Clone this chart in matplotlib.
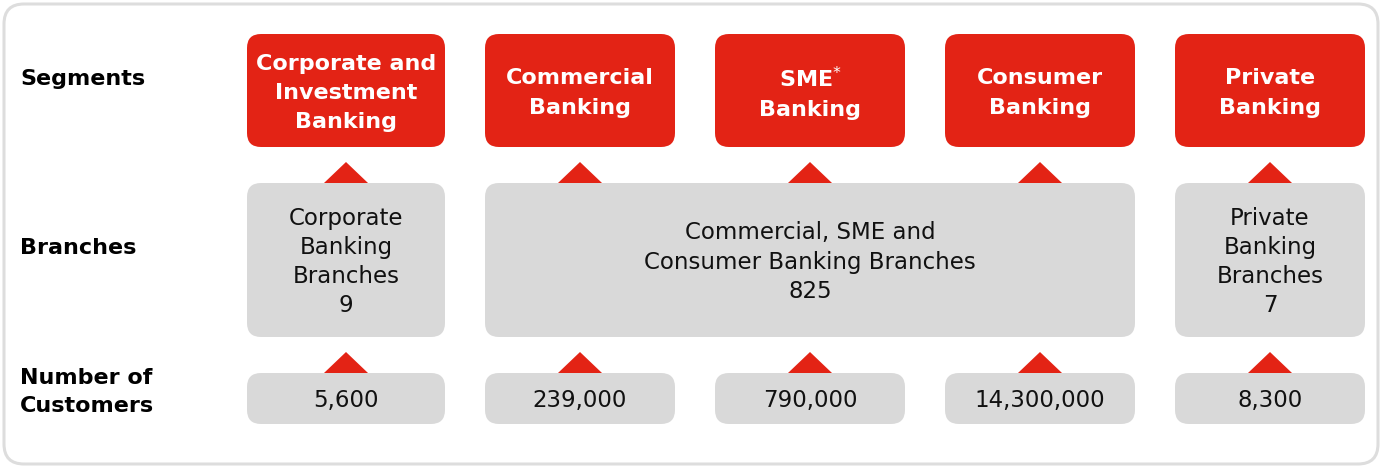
import matplotlib.pyplot as plt
from matplotlib.patches import FancyBboxPatch, Polygon

# diagram content
row_labels = ["Segments", "Branches", "Number of\nCustomers"]
segments = ["Corporate and\nInvestment\nBanking", "Commercial\nBanking",
            "SME$^{*}$\nBanking", "Consumer\nBanking", "Private\nBanking"]
branch_names = ["Corporate\nBanking\nBranches",
                "Commercial, SME and\nConsumer Banking Branches",
                "Private\nBanking\nBranches"]
branch_counts = [9, 825, 7]
branch_cols = [(0, 0), (1, 3), (4, 4)]   # first and last segment column covered
customers = [5600, 239000, 790000, 14300000, 8300]

RED = "#e32315"
GRAY = "#d9d9d9"

plt.rcParams['font.family'] = ['DejaVu Sans']

fig = plt.figure(figsize=(13.82, 4.68), dpi=100)
ax = fig.add_axes([0, 0, 1, 1])
ax.set_xlim(0, 1382)
ax.set_ylim(468, 0)
ax.axis("off")

col_left = [247, 485, 715, 945, 1175]
col_w = [198, 190, 190, 190, 190]


def rbox(x0, y0, w, h, color, r=14):
    ax.add_patch(FancyBboxPatch((x0 + r, y0 + r), w - 2 * r, h - 2 * r,
                                boxstyle=f"round,pad={r}", fc=color, ec="none"))


def tri(cx, ybase):
    ax.add_patch(Polygon([(cx - 22, ybase), (cx + 22, ybase), (cx, ybase - 21)],
                         closed=True, fc=RED, ec="none"))


# outer frame
ax.add_patch(FancyBboxPatch((24, 24), 1334, 420, boxstyle="round,pad=20",
                            fc="white", ec="#dddddd", lw=2.2))

# row labels
for lab, y in zip(row_labels, [79, 248, 392]):
    ax.text(20, y, lab, ha="left", va="center", fontsize=16,
            fontweight="bold", color="black", linespacing=1.5)

# segments
for i, seg in enumerate(segments):
    x0, w = col_left[i], col_w[i]
    rbox(x0, 34, w, 113, RED)
    ax.text(x0 + w / 2, 93, seg, ha="center", va="center", color="white",
            fontsize=16, fontweight="bold", linespacing=1.57)
    tri(x0 + w / 2, 183)
    tri(x0 + w / 2, 373)
    rbox(x0, 373, w, 51, GRAY)
    ax.text(x0 + w / 2, 400, f"{customers[i]:,}", ha="center", va="center",
            color="#111111", fontsize=16.5)

# branches
for name, cnt, (a, b) in zip(branch_names, branch_counts, branch_cols):
    x0 = col_left[a]
    x1 = col_left[b] + col_w[b]
    rbox(x0, 183, x1 - x0, 154, GRAY)
    ax.text((x0 + x1) / 2, 262, f"{name}\n{cnt}", ha="center", va="center",
            color="#111111", fontsize=16.5, linespacing=1.34)

fig.savefig("out.png", dpi=100)
